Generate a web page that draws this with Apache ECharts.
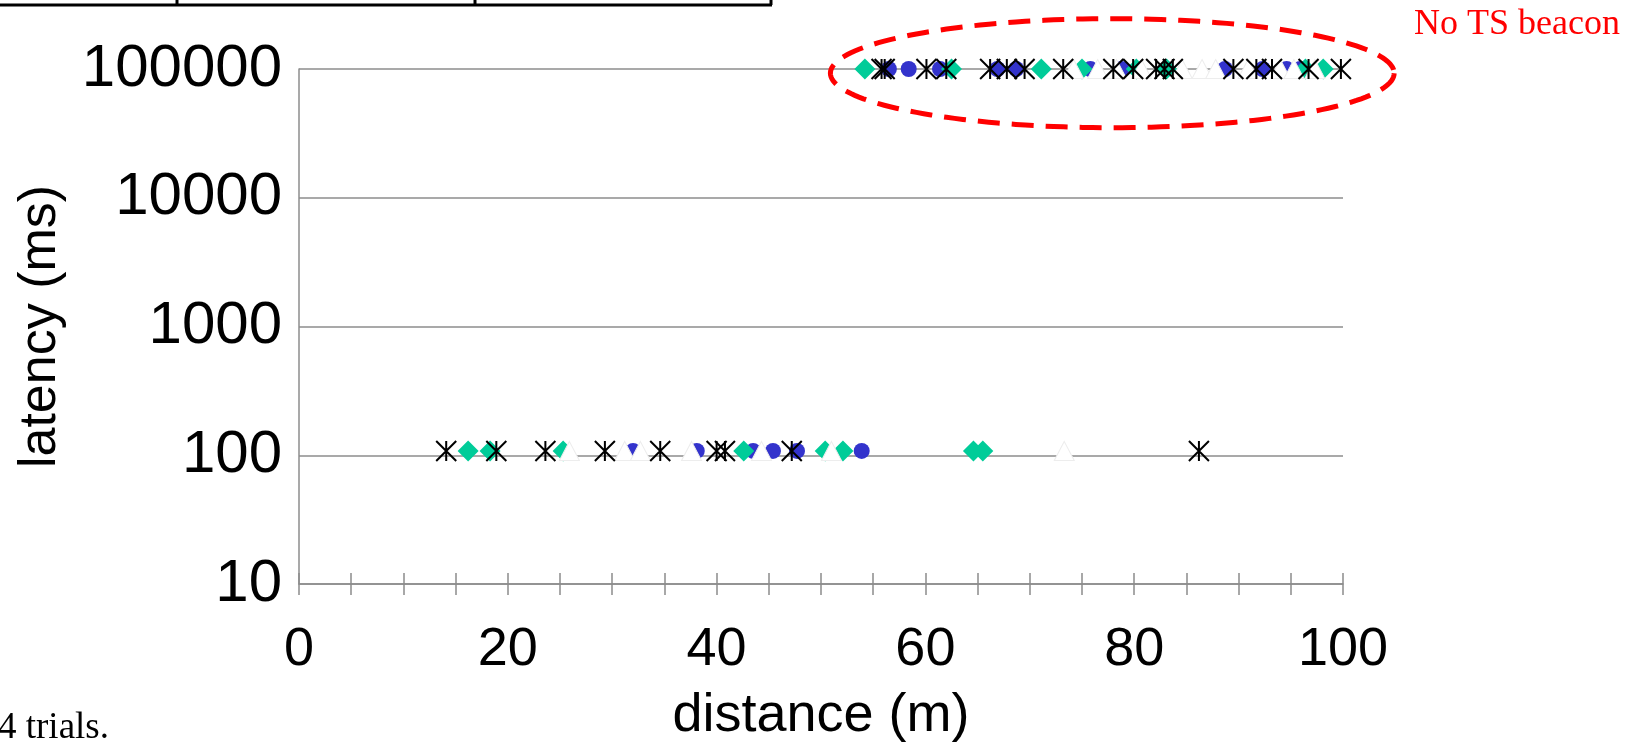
<!DOCTYPE html>
<html>
<head>
<meta charset="utf-8">
<script src="https://cdn.jsdelivr.net/npm/echarts@6/dist/echarts.min.js"></script>
<style>
  html, body { margin: 0; padding: 0; background: #fff; }
  #chart { width: 1647px; height: 744px; }
</style>
</head>
<body>
<div id="chart"></div>
<script>
// ---- data ----
const xTicks = [0, 20, 40, 60, 80, 100];
const yTicks = [10, 100, 1000, 10000, 100000];

// blue circles
const circleDist    = [32.0, 38.1, 43.5, 45.4, 47.7, 53.9,
                       56.5, 58.4, 61.4, 66.9, 68.7, 75.8, 78.8, 88.7, 92.3, 94.6, 95.9];
const circleLatency = [108, 108, 108, 108, 108, 108,
                       100000, 100000, 100000, 100000, 100000, 100000, 100000, 100000, 100000, 100000, 100000];

// green diamonds
const diamondDist    = [16.2, 18.3, 25.3, 42.6, 50.4, 52.1, 64.6, 65.5,
                        54.2, 62.5, 71.1, 75.0, 80.2, 83.1, 96.4, 98.1];
const diamondLatency = [108, 108, 108, 108, 108, 108, 108, 108,
                        100000, 100000, 100000, 100000, 100000, 100000, 100000, 100000];

// white triangles
const triangleDist    = [25.9, 31.2, 32.7, 37.6, 44.3, 51.0, 73.3,
                         74.2, 76.5, 78.3, 80.7, 84.6, 86.5, 87.8, 90.9, 94.0, 95.3, 97.3];
const triangleLatency = [108, 108, 108, 108, 108, 108, 108,
                         100000, 100000, 100000, 100000, 100000, 100000, 100000, 100000, 100000, 100000, 100000];

// black asterisks
const starDist    = [14.1, 18.9, 23.6, 29.3, 34.6, 40.0, 40.8, 47.2, 86.2,
                     55.8, 56.1, 60.1, 62.0, 66.2, 67.8, 69.5, 73.2, 78.0, 79.9,
                     82.1, 82.9, 83.7, 89.5, 91.7, 93.2, 96.7, 99.8];
const starLatency = [108, 108, 108, 108, 108, 108, 108, 108, 108,
                     100000, 100000, 100000, 100000, 100000, 100000, 100000, 100000, 100000, 100000,
                     100000, 100000, 100000, 100000, 100000, 100000, 100000, 100000];

const xAxisName = 'distance (m)';
const yAxisName = 'latency (ms)';
const noteText = 'No TS beacon';
const captionText = '4 trials.';

// annotation ellipse extent in data units
const ellipseXRange = [50.9, 104.9];
const ellipseYRange = [35000, 246000];

function pairs(xs, ys) { return xs.map((x, i) => [x, ys[i]]); }

const SANS = 'Liberation Sans, Arial, sans-serif';
const SERIF = 'Liberation Serif, Times New Roman, serif';
const GRAY = '#8c8c8c';

const chart = echarts.init(document.getElementById('chart'), null, { renderer: 'canvas' });

const option = {
  animation: false,
  backgroundColor: '#fff',
  grid: { left: 299, top: 69, width: 1044, height: 515, containLabel: false, outerBoundsMode: 'none' },
  xAxis: [
    {
      type: 'value', min: 0, max: 100, interval: 5,
      name: xAxisName, nameLocation: 'middle', nameGap: 105,
      nameTextStyle: { fontSize: 54, fontFamily: SANS, color: '#000' },
      axisLine: { show: true, onZero: false, lineStyle: { color: GRAY, width: 1.5 } },
      axisTick: { show: true, length: 11, lineStyle: { color: GRAY, width: 1.5 } },
      axisLabel: {
        fontSize: 54, fontFamily: SANS, color: '#000', margin: 39,
        formatter: v => (xTicks.indexOf(Math.round(v)) >= 0 ? String(Math.round(v)) : '')
      },
      splitLine: { show: false }
    },
    {
      type: 'value', min: 0, max: 100, interval: 5, position: 'bottom',
      axisLine: { show: false, onZero: false },
      axisTick: { show: true, inside: true, length: 11, lineStyle: { color: GRAY, width: 1.5 } },
      axisLabel: { show: false },
      splitLine: { show: false }
    }
  ],
  yAxis: {
    type: 'log', logBase: 10, min: yTicks[0], max: yTicks[yTicks.length - 1],
    name: yAxisName, nameLocation: 'middle', nameGap: 232, nameRotate: 90,
    nameTextStyle: { fontSize: 52, fontFamily: SANS, color: '#000' },
    axisLine: { show: true, onZero: false, lineStyle: { color: GRAY, width: 1.5 } },
    axisTick: { show: false },
    axisLabel: {
      fontSize: 60, fontFamily: SANS, color: '#000', margin: 17,
      formatter: v => String(Math.round(v))
    },
    splitLine: { show: true, lineStyle: { color: GRAY, width: 1.5 } }
  },
  series: [
    {
      type: 'scatter', name: 'circle', data: pairs(circleDist, circleLatency),
      symbol: 'circle', symbolSize: 16, silent: true,
      itemStyle: { color: '#3333CC', opacity: 1 }, z: 3
    },
    {
      type: 'scatter', name: 'diamond', data: pairs(diamondDist, diamondLatency),
      symbol: 'diamond', symbolSize: [21, 21], silent: true,
      itemStyle: { color: '#00CC99', opacity: 1 }, z: 4
    },
    {
      type: 'scatter', name: 'triangle', data: pairs(triangleDist, triangleLatency),
      symbol: 'triangle', symbolSize: [20, 19], silent: true,
      itemStyle: { color: '#ffffff', borderColor: '#ededed', borderWidth: 1, opacity: 1 }, z: 5
    },
    {
      type: 'scatter', name: 'asterisk', data: pairs(starDist, starLatency),
      symbol: 'path://M0,0L20,20M20,0L0,20M10,0L10,20', symbolSize: [20, 20], silent: true,
      itemStyle: { color: 'rgba(0,0,0,0)', borderColor: '#000', borderWidth: 2, opacity: 1 }, z: 6
    }
  ]
};

chart.setOption(option);

// annotations: table rule at the top, red dashed ellipse, texts
const pL = chart.convertToPixel({ gridIndex: 0 }, [ellipseXRange[0], ellipseYRange[0]]);
const pR = chart.convertToPixel({ gridIndex: 0 }, [ellipseXRange[1], ellipseYRange[1]]);
const cx = (pL[0] + pR[0]) / 2, cy = (pL[1] + pR[1]) / 2;
const rx = Math.abs(pR[0] - pL[0]) / 2, ry = Math.abs(pR[1] - pL[1]) / 2;
const ellipsePts = [];
for (let i = 0; i < 180; i++) {
  const t = i / 180 * Math.PI * 2;
  ellipsePts.push([cx + rx * Math.cos(t), cy + ry * Math.sin(t)]);
}

chart.setOption({
  graphic: [
    { type: 'polygon', z: 50, shape: { points: ellipsePts },
      style: { fill: 'none', stroke: '#FF0000', lineWidth: 5, lineDash: [22, 12] } },
    { type: 'line', z: 50, shape: { x1: 0, y1: 5, x2: 772, y2: 5 }, style: { stroke: '#000', lineWidth: 3 } },
    { type: 'line', z: 50, shape: { x1: 177, y1: 0, x2: 177, y2: 5 }, style: { stroke: '#000', lineWidth: 3 } },
    { type: 'line', z: 50, shape: { x1: 475, y1: 0, x2: 475, y2: 5 }, style: { stroke: '#000', lineWidth: 3 } },
    { type: 'line', z: 50, shape: { x1: 771, y1: 0, x2: 771, y2: 5 }, style: { stroke: '#000', lineWidth: 3 } },
    { type: 'text', z: 50, left: 1414, top: 7,
      style: { text: noteText, fill: '#FF0000', font: '36px ' + SERIF } },
    { type: 'text', z: 50, left: -2, top: 710,
      style: { text: captionText, fill: '#000', font: '37px ' + SERIF } }
  ]
});
</script>
</body>
</html>
